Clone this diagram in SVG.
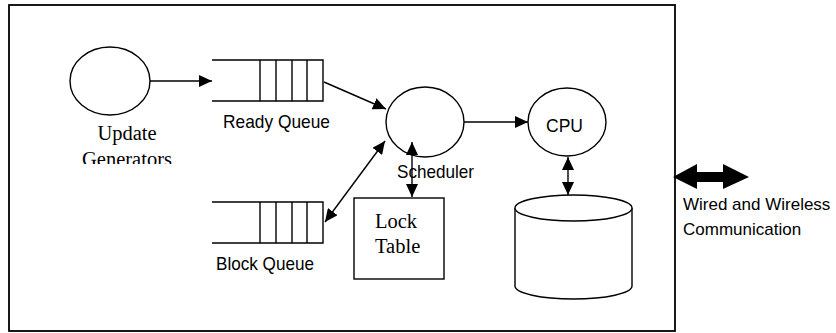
<svg xmlns="http://www.w3.org/2000/svg" width="836" height="333" viewBox="0 0 836 333">
  <style>
    .ln { fill: none; stroke: #000; stroke-width: 1.4; }
    .shape { fill: #fff; stroke: #000; stroke-width: 1.4; }
    .sans { font-family: "Liberation Sans", Arial, sans-serif; font-size: 19px; fill: #000; }
    .note { font-family: "Liberation Sans", Arial, sans-serif; font-size: 17px; fill: #000; }
    .serif { font-family: "Liberation Serif", "Times New Roman", serif; font-size: 20.5px; fill: #000; }
  </style>
  <defs>
    <marker id="head" markerUnits="userSpaceOnUse" markerWidth="14" markerHeight="12" viewBox="0 0 14 12" refX="13" refY="6" orient="auto-start-reverse">
      <path d="M0,0 L13,6 L0,12 Z" fill="#000"/>
    </marker>
    <clipPath id="genClip">
      <rect x="60" y="120" width="140" height="44"/>
    </clipPath>
  </defs>

  <rect width="836" height="333" fill="#fff"/>

  <!-- system boundary -->
  <rect id="system" x="9" y="5" width="666" height="326" fill="none" stroke="#000" stroke-width="1.8"/>

  <g id="update-generators">
    <ellipse class="shape" cx="110" cy="81" rx="40" ry="34"/>
    <g clip-path="url(#genClip)">
      <text class="serif" x="127" y="140" text-anchor="middle">Update</text>
      <text class="serif" x="127" y="166" text-anchor="middle">Generators</text>
    </g>
  </g>

  <g id="ready-queue">
    <path class="ln" d="M212,60 H323 V101 H212 M260,60 V101 M276,60 V101 M292,60 V101 M307,60 V101"/>
    <text class="sans" x="223" y="128" textLength="107" lengthAdjust="spacingAndGlyphs">Ready Queue</text>
  </g>

  <g id="block-queue">
    <path class="ln" d="M212,202 H323 V243 H212 M260,202 V243 M276,202 V243 M292,202 V243 M307,202 V243"/>
    <text class="sans" x="216" y="270" textLength="98" lengthAdjust="spacingAndGlyphs">Block Queue</text>
  </g>

  <g id="scheduler">
    <ellipse class="shape" cx="425" cy="122" rx="39" ry="35"/>
    <text class="sans" x="397" y="178" textLength="77" lengthAdjust="spacingAndGlyphs">Scheduler</text>
  </g>

  <g id="lock-table">
    <rect class="shape" x="354" y="198" width="90" height="81"/>
    <text class="serif" x="375" y="228">Lock</text>
    <text class="serif" x="375" y="253">Table</text>
  </g>

  <g id="cpu">
    <ellipse class="shape" cx="567" cy="122" rx="39" ry="34"/>
    <text class="sans" x="546" y="132" textLength="37" lengthAdjust="spacingAndGlyphs">CPU</text>
  </g>

  <g id="database">
    <path class="shape" d="M515,208 V286 A58.5,13 0 0 0 632,286 V208"/>
    <ellipse class="shape" cx="573.5" cy="208" rx="58.5" ry="13"/>
  </g>

  <g id="communication">
    <path d="M673,177 L697,164 L697,172 L723,172 L723,164 L749,177 L723,189 L723,182 L697,182 L697,189 Z" fill="#000"/>
    <text class="note" x="683" y="210">Wired and Wireless</text>
    <text class="note" x="683" y="235">Communication</text>
  </g>

  <g id="connectors" class="ln">
    <line x1="150" y1="81" x2="212" y2="81" marker-end="url(#head)"/>
    <line x1="324" y1="82" x2="386" y2="109" marker-end="url(#head)"/>
    <line x1="325" y1="222" x2="385" y2="141" marker-start="url(#head)" marker-end="url(#head)"/>
    <line x1="464" y1="122" x2="528" y2="122" marker-end="url(#head)"/>
    <line x1="412" y1="142" x2="412" y2="197" marker-start="url(#head)" marker-end="url(#head)"/>
    <line x1="568" y1="157" x2="568" y2="195" marker-start="url(#head)" marker-end="url(#head)"/>
  </g>
</svg>
